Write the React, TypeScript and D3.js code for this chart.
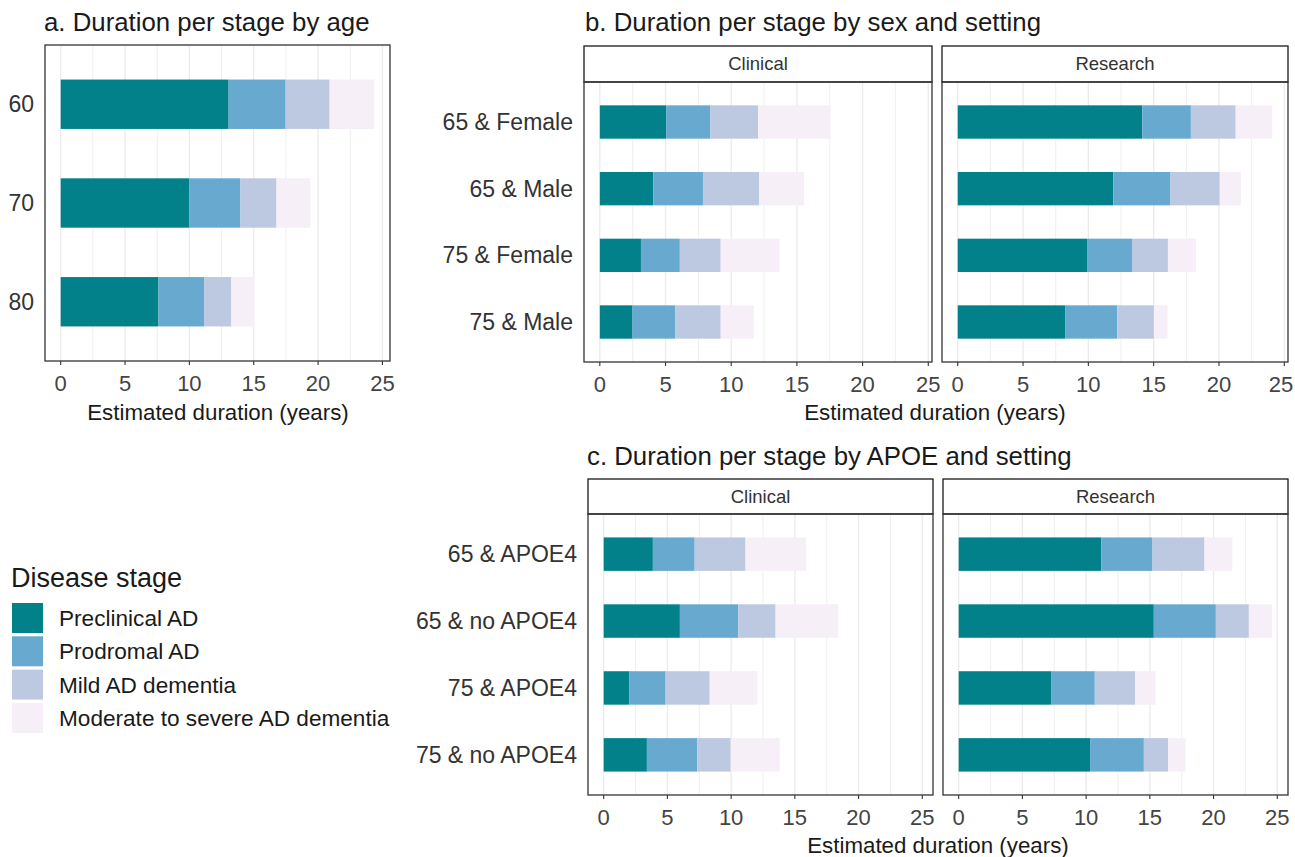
import React from 'react';
import { scaleLinear, scaleBand, stack, max, range } from 'd3';

// Disease stages (fill order, left to right)
const stages = ['Preclinical AD', 'Prodromal AD', 'Mild AD dementia', 'Moderate to severe AD dementia'];
const stageColors = ['#02818A', '#67A9CF', '#BDC9E1', '#F6EFF7'];

// a. by age  — duration (years) of each stage, rows follow ageGroups
const ageGroups = ['60', '70', '80'];
const ageDurations = [
  [13.05, 4.43, 3.42, 3.47],
  [10.0, 3.97, 2.8, 2.63],
  [7.6, 3.54, 2.12, 1.81],
];

// b. by sex and setting
const settings = ['Clinical', 'Research'];
const sexGroups = ['65 & Female', '65 & Male', '75 & Female', '75 & Male'];
const sexClinical = [
  [5.05, 3.37, 3.63, 5.51],
  [4.07, 3.78, 4.27, 3.42],
  [3.13, 2.96, 3.11, 4.48],
  [2.49, 3.24, 3.47, 2.51],
];
const sexResearch = [
  [14.13, 3.72, 3.43, 2.8],
  [11.91, 4.38, 3.77, 1.63],
  [9.9, 3.44, 2.75, 2.14],
  [8.25, 3.97, 2.8, 1.04],
];

// c. by APOE and setting
const apoeGroups = ['65 & APOE4', '65 & no APOE4', '75 & APOE4', '75 & no APOE4'];
const apoeClinical = [
  [3.86, 3.28, 3.99, 4.75],
  [5.98, 4.57, 2.94, 4.91],
  [2.02, 2.84, 3.46, 3.75],
  [3.39, 3.96, 2.62, 3.84],
];
const apoeResearch = [
  [11.2, 4.01, 4.08, 2.18],
  [15.31, 4.87, 2.59, 1.84],
  [7.25, 3.43, 3.17, 1.6],
  [10.31, 4.22, 1.91, 1.36],
];

const xTicks = [0, 5, 10, 15, 20, 25];
const FONT = '"Liberation Sans", Arial, sans-serif';
const W = 1295;

type Box = { x0: number; x1: number; y0: number; y1: number };

const toRows = (groups: string[], vals: number[][]) =>
  groups.map((g, i) => {
    const row: Record<string, any> = { group: g };
    stages.forEach((s, j) => (row[s] = vals[i][j]));
    return row;
  });

const totalMax = (...sets: number[][][]) =>
  max(sets.flat().map(r => r.reduce((a, b) => a + b, 0))) as number;

interface PanelProps {
  box: Box;
  groups: string[];
  values: number[][];
  xMax: number;
  strip?: string;
  stripH?: number;
  showYLabels: boolean;
}

const Panel: React.FC<PanelProps> = ({ box, groups, values, xMax, strip, stripH = 0, showYLabels }) => {
  const plotTop = box.y0 + stripH;
  const pad = xMax * 0.05;
  const x = scaleLinear().domain([-pad, xMax + pad]).range([box.x0, box.x1]);
  const y = scaleBand<string>()
    .domain(groups)
    .range([plotTop, box.y1])
    .paddingInner(0.5)
    .paddingOuter(0.35);
  const series = stack<any>().keys(stages)(toRows(groups, values));
  const minor = range(2.5, xMax + pad, 5);

  return (
    <g>
      {minor.map(t => (
        <line key={'m' + t} x1={x(t)} x2={x(t)} y1={plotTop} y2={box.y1} stroke="#EBEBEB" strokeWidth={0.8} />
      ))}
      {xTicks.map(t => (
        <line key={'g' + t} x1={x(t)} x2={x(t)} y1={plotTop} y2={box.y1} stroke="#EBEBEB" strokeWidth={1.3} />
      ))}
      {series.map((s, si) =>
        s.map(d => (
          <rect
            key={stages[si] + d.data.group}
            x={x(d[0])}
            width={x(d[1]) - x(d[0])}
            y={y(d.data.group)}
            height={y.bandwidth()}
            fill={stageColors[si]}
          />
        ))
      )}
      {strip && (
        <g>
          <rect x={box.x0} y={box.y0} width={box.x1 - box.x0} height={stripH} fill="#fff" stroke="#1A1A1A" strokeWidth={1.3} />
          <text
            x={(box.x0 + box.x1) / 2}
            y={box.y0 + stripH / 2}
            dy="0.35em"
            textAnchor="middle"
            fontSize={18.5}
            fill="#333"
          >
            {strip}
          </text>
        </g>
      )}
      <rect x={box.x0} y={plotTop} width={box.x1 - box.x0} height={box.y1 - plotTop} fill="none" stroke="#333" strokeWidth={1.3} />
      {xTicks.map(t => (
        <g key={'t' + t}>
          <line x1={x(t)} x2={x(t)} y1={box.y1} y2={box.y1 + 4} stroke="#333" strokeWidth={1.1} />
          <text
            x={Math.min(x(t), W - 14)}
            y={box.y1 + 22}
            dy="0.35em"
            textAnchor="middle"
            fontSize={22}
            fill="#444"
          >
            {t}
          </text>
        </g>
      ))}
      {showYLabels &&
        groups.map(g => (
          <text
            key={'y' + g}
            x={box.x0 - 11}
            y={(y(g) as number) + y.bandwidth() / 2}
            dy="0.35em"
            textAnchor="end"
            fontSize={23}
            fill="#333"
          >
            {g}
          </text>
        ))}
    </g>
  );
};

const App: React.FC = () => {
  const maxA = totalMax(ageDurations);
  const maxB = totalMax(sexClinical, sexResearch);
  const maxC = totalMax(apoeClinical, apoeResearch);

  const bBoxes: Box[] = [
    { x0: 584, x1: 932, y0: 46, y1: 362 },
    { x0: 942, x1: 1288, y0: 46, y1: 362 },
  ];
  const cBoxes: Box[] = [
    { x0: 588, x1: 933, y0: 479, y1: 795 },
    { x0: 943, x1: 1288, y0: 479, y1: 795 },
  ];

  return (
    <svg
      width={W}
      height={857}
      style={{ position: 'absolute', left: 0, top: 0, background: '#fff' }}
      fontFamily={FONT}
    >
      {/* a */}
      <text x={44} y={31} fontSize={25.8} fill="#1A1A1A">a. Duration per stage by age</text>
      <Panel box={{ x0: 45, x1: 390, y0: 45, y1: 361 }} groups={ageGroups} values={ageDurations} xMax={maxA} showYLabels />
      <text x={218} y={412} dy="0.35em" textAnchor="middle" fontSize={22.3} fill="#1A1A1A">Estimated duration (years)</text>

      {/* b */}
      <text x={585} y={31} fontSize={25.8} fill="#1A1A1A">b. Duration per stage by sex and setting</text>
      {settings.map((s, i) => (
        <Panel
          key={'b' + s}
          box={bBoxes[i]}
          groups={sexGroups}
          values={i === 0 ? sexClinical : sexResearch}
          xMax={maxB}
          strip={s}
          stripH={36}
          showYLabels={i === 0}
        />
      ))}
      <text x={935} y={412} dy="0.35em" textAnchor="middle" fontSize={22.3} fill="#1A1A1A">Estimated duration (years)</text>

      {/* c */}
      <text x={587} y={465} fontSize={25.8} fill="#1A1A1A">c. Duration per stage by APOE and setting</text>
      {settings.map((s, i) => (
        <Panel
          key={'c' + s}
          box={cBoxes[i]}
          groups={apoeGroups}
          values={i === 0 ? apoeClinical : apoeResearch}
          xMax={maxC}
          strip={s}
          stripH={35}
          showYLabels={i === 0}
        />
      ))}
      <text x={938} y={845} dy="0.35em" textAnchor="middle" fontSize={22.3} fill="#1A1A1A">Estimated duration (years)</text>

      {/* legend */}
      <text x={11} y={578} dy="0.35em" fontSize={27} fill="#1A1A1A">Disease stage</text>
      {stages.map((s, i) => (
        <g key={'l' + s} transform={`translate(12, ${603 + i * 33.3})`}>
          <rect width={31} height={30} fill={stageColors[i]} />
          <text x={47} y={15} dy="0.35em" fontSize={22.6} fill="#1A1A1A">{s}</text>
        </g>
      ))}
    </svg>
  );
};

export default App;
